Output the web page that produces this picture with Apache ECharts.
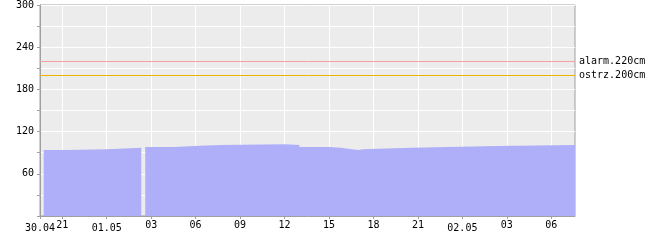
<!DOCTYPE html>
<html><head><meta charset="utf-8">
<script src="https://cdn.jsdelivr.net/npm/echarts@6/dist/echarts.min.js"></script>
<style>html,body{margin:0;padding:0;background:#fff}#c{width:650px;height:240px}</style>
</head><body><div id="c"></div>
<script>
// Times (dd.mm hh:mm) when the level changed, and the level (cm) held until the next time; null = missing reading
const times = ['30.04 19:45','30.04 21:15','01.05 00:00','01.05 02:20','01.05 02:36','01.05 04:36','01.05 05:54','01.05 07:39','01.05 12:00','01.05 13:00','01.05 15:00','01.05 15:48','01.05 16:33','01.05 17:00','01.05 17:15','01.05 20:32','01.05 23:02','02.05 02:20','02.05 07:36'];
const levels = [94, 95, 97, null, 98, 99.5, 101, 102, 101, 98, 97, 95, 94, 95, 97, 98, 99.5, 101, 101];
const xStart = '30.04 19:30', xEnd = '02.05 07:36';
const tickTimes = ['30.04 19:30','30.04 21:00','01.05 00:00','01.05 03:00','01.05 06:00','01.05 09:00','01.05 12:00','01.05 15:00','01.05 18:00','01.05 21:00','02.05 00:00','02.05 03:00','02.05 06:00'];
const tickLabels = ['30.04','21','01.05','03','06','09','12','15','18','21','02.05','03','06'];
const dateTicks = ['30.04','01.05','02.05'];
const thresholds = [220, 200];
const thresholdLabels = ['alarm.220cm', 'ostrz.200cm'];
const thresholdColors = ['#f4a0a0', '#f0b400'];

function hrs(s){ const [d,t]=s.split(' '); const day=+d.split('.')[0]; const base = d.endsWith('.04') ? 0 : day; const [h,m]=t.split(':').map(Number); return base*24 + h + m/60; }
const tickVals = tickTimes.map(hrs);
// step shape: each level is held from its time to the next time
const data = [];
for (let i = 0; i < times.length - 1; i++) {
  const v = levels[i];
  if (v === null) { data.push([hrs(times[i]), null]); continue; }
  data.push([hrs(times[i]), v]);
  data.push([hrs(times[i+1]), v]);
}
const font = 'DejaVu Sans Mono';
function thrSeries(k){
  return {type:'line',data:[],markLine:{silent:true,symbol:'none',animation:false,
    lineStyle:{color:thresholdColors[k],width:1,type:'solid',opacity:1},
    label:{position:'end',distance:4,color:'#000',fontFamily:font,fontSize:10,formatter:thresholdLabels[k]},
    data:[{yAxis:thresholds[k]}]}};
}
const chart = echarts.init(document.getElementById('c'), null, {renderer:'canvas'});
chart.setOption({
  animation:false,
  grid:{left:40,right:75,top:5,bottom:24,show:true,backgroundColor:'#ececec',borderColor:'#a0a0a0',borderWidth:1},
  xAxis:{type:'value',min:hrs(xStart),max:hrs(xEnd),
    axisLine:{show:true,lineStyle:{color:'#a0a0a0'}},
    axisTick:{show:true,customValues:tickVals,length:3,inside:false,lineStyle:{color:'#a0a0a0'}},
    splitLine:{show:true,lineStyle:{color:'#ffffff',width:1}},
    axisLabel:{customValues:tickVals,margin:4,color:'#000',fontFamily:font,fontSize:10,
      formatter:function(v){ let best=0; for(let i=0;i<tickVals.length;i++){ if(Math.abs(tickVals[i]-v)<Math.abs(tickVals[best]-v)) best=i; } const l=tickLabels[best]; return dateTicks.includes(l)?'{d|'+l+'}':'{h|'+l+'}'; },
      rich:{h:{fontFamily:font,fontSize:10,color:'#000',lineHeight:11},d:{fontFamily:font,fontSize:10,color:'#000',lineHeight:11,padding:[5,0,0,0]}}}
  },
  yAxis:{type:'value',min:0,max:300,interval:30,
    axisLine:{show:true,lineStyle:{color:'#a0a0a0'}},
    axisTick:{show:true,length:3,lineStyle:{color:'#a0a0a0'}},
    splitLine:{show:true,lineStyle:{color:'#ffffff',width:1}},
    axisLabel:{margin:6,color:'#000',fontFamily:font,fontSize:10,formatter:v=> v%60===0 && v>0 ? String(v) : ''}
  },
  series:[{type:'line',data:data,symbol:'none',showSymbol:false,connectNulls:false,
    lineStyle:{width:0},areaStyle:{color:'#afaff9',opacity:1}},
    thrSeries(0), thrSeries(1)]
});
</script></body></html>
